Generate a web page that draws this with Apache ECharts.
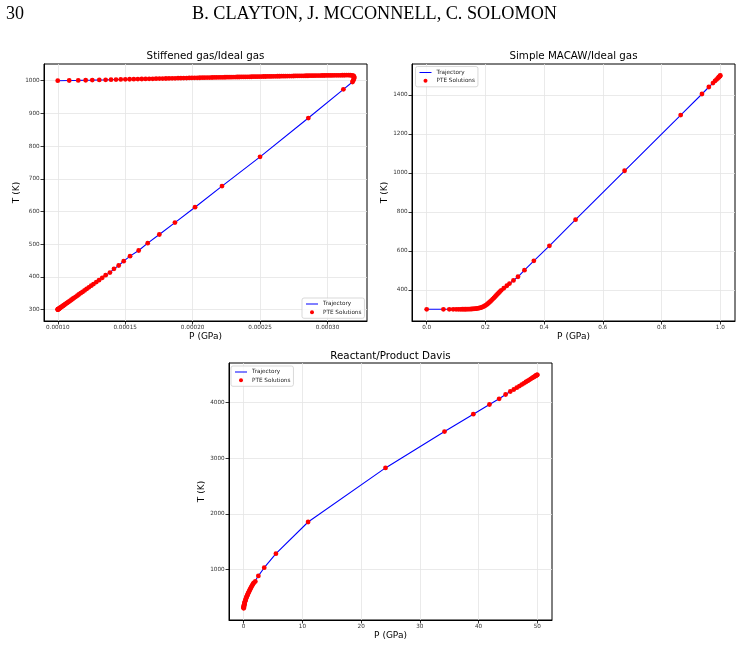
<!DOCTYPE html>
<html><head><meta charset="utf-8">
<script src="https://cdn.jsdelivr.net/npm/echarts@6/dist/echarts.min.js"></script>
<style>html,body{margin:0;padding:0;background:#fff}#c{width:743px;height:647px}</style>
</head><body><div id="c"></div>
<script>
// ---------- Data: Stiffened gas / Ideal gas (P in GPa, T in K) ----------
const sgLower = [[1.0000e-4,300],[1.0003e-4,300.1],[1.0010e-4,300.3],[1.0020e-4,300.6],[1.0030e-4,301],[1.0050e-4,301.5],[1.0070e-4,302.1],[1.0100e-4,302.8],[1.0120e-4,303.6],[1.0160e-4,304.6],[1.0190e-4,305.7],[1.0230e-4,306.9],[1.0280e-4,308.2],[1.0330e-4,309.6],[1.0380e-4,311.1],[1.0430e-4,312.7],[1.0490e-4,314.4],[1.0550e-4,316.2],[1.0620e-4,318.2],[1.0690e-4,320.3],[1.0770e-4,322.5],[1.0850e-4,325],[1.0940e-4,327.5],[1.1020e-4,330],[1.1120e-4,333],[1.1220e-4,336],[1.1330e-4,339],[1.1450e-4,342.5],[1.1560e-4,346],[1.1700e-4,350],[1.1840e-4,354],[1.1990e-4,358.5],[1.2140e-4,363],[1.2310e-4,368],[1.2480e-4,373],[1.2650e-4,378],[1.2860e-4,384],[1.3060e-4,390],[1.3300e-4,397],[1.3550e-4,405],[1.3870e-4,413],[1.4170e-4,424.5],[1.4520e-4,434.7],[1.4890e-4,448],[1.5360e-4,463.3],[1.6000e-4,480.6],[1.6670e-4,503],[1.7530e-4,529.6],[1.8690e-4,566],[2.0180e-4,613],[2.2180e-4,677.6],[2.5000e-4,767],[2.8580e-4,885.7],[3.1180e-4,973.6],[3.1850e-4,996]];
const sgCurl = [[3.1900e-4,1000],[3.1940e-4,1003.5],[3.1970e-4,1007],[3.1980e-4,1010],[3.1970e-4,1012.5],[3.1930e-4,1014.5],[3.1880e-4,1015.6],[3.1790e-4,1016.3]];
const sgUpper = [[1.0000e-4,1000],[1.0850e-4,1000.5],[1.1520e-4,1000.9],[1.2070e-4,1001.3],[1.2560e-4,1001.7],[1.3080e-4,1002.2],[1.3550e-4,1002.6],[1.3950e-4,1003],[1.4320e-4,1003.4],[1.4670e-4,1003.7],[1.5010e-4,1004],[1.5330e-4,1004.3],[1.5640e-4,1004.6],[1.5940e-4,1004.8],[1.6230e-4,1005.1],[1.6510e-4,1005.4],[1.6780e-4,1005.6],[1.7040e-4,1005.8],[1.7290e-4,1006.1],[1.7540e-4,1006.3],[1.7780e-4,1006.5],[1.8020e-4,1006.7],[1.8250e-4,1006.9],[1.8480e-4,1007.1],[1.8700e-4,1007.3],[1.8920e-4,1007.5],[1.9130e-4,1007.7],[1.9340e-4,1007.9],[1.9550e-4,1008.1],[1.9750e-4,1008.3],[1.9950e-4,1008.5],[2.0150e-4,1008.6],[2.0340e-4,1008.8],[2.0530e-4,1008.9],[2.0720e-4,1009.1],[2.0900e-4,1009.2],[2.1080e-4,1009.4],[2.1260e-4,1009.5],[2.1440e-4,1009.7],[2.1610e-4,1009.8],[2.1780e-4,1010],[2.1950e-4,1010.1],[2.2100e-4,1010.2],[2.2250e-4,1010.3],[2.2400e-4,1010.5],[2.2550e-4,1010.6],[2.2700e-4,1010.7],[2.2850e-4,1010.8],[2.3000e-4,1010.9],[2.3150e-4,1011],[2.3300e-4,1011.2],[2.3450e-4,1011.3],[2.3600e-4,1011.4],[2.3750e-4,1011.5],[2.3900e-4,1011.6],[2.4050e-4,1011.7],[2.4200e-4,1011.9],[2.4350e-4,1012],[2.4500e-4,1012.1],[2.4650e-4,1012.2],[2.4800e-4,1012.3],[2.4950e-4,1012.5],[2.5100e-4,1012.6],[2.5250e-4,1012.7],[2.5400e-4,1012.8],[2.5550e-4,1012.9],[2.5700e-4,1013],[2.5850e-4,1013.1],[2.6000e-4,1013.3],[2.6150e-4,1013.4],[2.6300e-4,1013.5],[2.6450e-4,1013.6],[2.6600e-4,1013.7],[2.6750e-4,1013.8],[2.6900e-4,1013.9],[2.7050e-4,1014],[2.7200e-4,1014.1],[2.7350e-4,1014.2],[2.7500e-4,1014.3],[2.7650e-4,1014.4],[2.7800e-4,1014.6],[2.7950e-4,1014.7],[2.8100e-4,1014.8],[2.8250e-4,1014.9],[2.8400e-4,1015],[2.8550e-4,1015.1],[2.8700e-4,1015.2],[2.8850e-4,1015.3],[2.9000e-4,1015.4],[2.9150e-4,1015.5],[2.9300e-4,1015.6],[2.9450e-4,1015.7],[2.9600e-4,1015.8],[2.9750e-4,1015.9],[2.9900e-4,1016],[3.0050e-4,1016.1],[3.0200e-4,1016.1],[3.0350e-4,1016.2],[3.0500e-4,1016.3],[3.0650e-4,1016.4],[3.0800e-4,1016.4],[3.0950e-4,1016.5],[3.1100e-4,1016.6],[3.1250e-4,1016.6],[3.1400e-4,1016.7],[3.1550e-4,1016.7],[3.1680e-4,1016.6]];
const sgXTicks = [0.0001, 0.00015, 0.0002, 0.00025, 0.0003];
const sgYTicks = [300, 400, 500, 600, 700, 800, 900, 1000];

// ---------- Data: Simple MACAW / Ideal gas ----------
const mcPoints = [[0,300],[0.057,300],[0.077,300],[0.090,300],[0.100,300],[0.108,300],[0.115,300.1],[0.121,300.2],[0.127,300.3],[0.132,300.4],[0.137,300.6],[0.141,300.8],[0.145,301],[0.149,301.3],[0.153,301.6],[0.157,302],[0.161,302.5],[0.165,303.1],[0.169,303.8],[0.173,304.7],[0.177,305.8],[0.181,307.2],[0.185,309],[0.189,311.2],[0.193,313.8],[0.197,317],[0.201,320.7],[0.205,325],[0.209,329.8],[0.213,335],[0.217,340.5],[0.221,346.3],[0.225,352.3],[0.229,358.5],[0.233,364.8],[0.237,371.2],[0.241,377.7],[0.245,384.2],[0.249,390.5],[0.254,397.5],[0.2625,408],[0.273,421],[0.282,432],[0.2955,448],[0.311,467],[0.333,501],[0.365,549],[0.418,626],[0.507,760],[0.674,1011],[0.865,1297],[0.9375,1405],[0.961,1441],[0.975,1461],[0.982,1472],[0.987,1479],[0.991,1485],[0.994,1490],[0.996,1493],[0.998,1496],[0.999,1498],[1.0,1500]];
const mcXTicks = [0, 0.2, 0.4, 0.6, 0.8, 1.0];
const mcYTicks = [400, 600, 800, 1000, 1200, 1400];

// ---------- Data: Reactant / Product Davis ----------
const dvPoints = [[0,300],[0.005,310],[0.012,318],[0.02,325],[0.03,332],[0.045,342],[0.06,351],[0.08,361],[0.1,371],[0.13,384],[0.16,397],[0.2,412],[0.24,426],[0.28,440],[0.33,456],[0.38,471],[0.43,485],[0.49,502],[0.55,518],[0.61,533],[0.68,550],[0.75,567],[0.82,583],[0.9,600],[0.98,618],[1.06,635],[1.15,653],[1.24,671],[1.34,690],[1.45,711],[1.57,733],[1.7,756],[1.98,782],[2.5,882],[3.5,1030],[5.49,1282],[10.97,1852],[24.15,2824],[34.2,3478],[39.1,3790],[41.85,3964],[43.5,4066],[44.6,4144],[45.4,4198],[46.0,4234],[46.5,4266],[46.95,4296],[47.35,4322],[47.7,4345],[48.05,4368],[48.35,4388],[48.65,4408],[48.9,4425],[49.15,4442],[49.35,4455],[49.52,4466],[49.67,4476],[49.8,4485],[49.9,4492],[49.96,4496],[50.0,4498]];
const dvXTicks = [0, 10, 20, 30, 40, 50];
const dvYTicks = [1000, 2000, 3000, 4000];

const titles = ['Stiffened gas/Ideal gas', 'Simple MACAW/Ideal gas', 'Reactant/Product Davis'];
const header = { page: '30', authors: 'B. CLAYTON, J. MCCONNELL, C. SOLOMON' };

// ---------- Build chart ----------
const FF = "'DejaVu Sans', sans-serif";
const sgData = sgLower.concat(sgCurl, sgUpper.slice().reverse());

const grids = [
  { left: 44, top: 64, width: 323, height: 257 },
  { left: 412, top: 64, width: 323, height: 257 },
  { left: 229, top: 363, width: 323, height: 257 }
];

function xAxis(gi, min, max, ticks, fmt, splitNumber) {
  return {
    gridIndex: gi, type: 'value', min, max, splitNumber,
    name: 'P (GPa)', nameLocation: 'middle', nameGap: 11,
    nameTextStyle: { fontSize: 9, color: '#000', fontFamily: FF },
    axisLine: { show: true, onZero: false, lineStyle: { color: '#000', width: 1 } },
    axisTick: { show: true, length: 3.5, customValues: ticks, lineStyle: { color: '#000', width: 0.8 } },
    axisLabel: { customValues: ticks, formatter: fmt, fontSize: 5.7, color: '#333', margin: 3.5, fontFamily: FF, hideOverlap: false },
    splitLine: { show: true, lineStyle: { color: '#e4e4e4', width: 0.8 } }
  };
}
function yAxis(gi, min, max, ticks, splitNumber) {
  return {
    gridIndex: gi, type: 'value', min, max, splitNumber,
    name: 'T (K)', nameLocation: 'middle', nameGap: 22, nameRotate: 90,
    nameTextStyle: { fontSize: 9, color: '#000', fontFamily: FF },
    axisLine: { show: true, onZero: false, lineStyle: { color: '#000', width: 1 } },
    axisTick: { show: true, length: 3.5, customValues: ticks, lineStyle: { color: '#000', width: 0.8 } },
    axisLabel: { customValues: ticks, formatter: v => String(Math.round(v)), fontSize: 5.7, color: '#333', margin: 4.3, fontFamily: FF, hideOverlap: false },
    splitLine: { show: true, lineStyle: { color: '#e4e4e4', width: 0.8 } }
  };
}

function seriesPair(i, data) {
  return [
    { type: 'line', name: 'Trajectory', xAxisIndex: i, yAxisIndex: i, data, symbol: 'none', showSymbol: false,
      lineStyle: { color: '#0000ff', width: 1.1 }, itemStyle: { color: '#0000ff' }, z: 2, silent: true },
    { type: 'scatter', name: 'PTE Solutions', xAxisIndex: i, yAxisIndex: i, data, symbol: 'circle', symbolSize: 4.8,
      itemStyle: { color: '#ff0000', opacity: 1 }, z: 3, silent: true }
  ];
}

function legend(left, top) {
  return {
    orient: 'vertical', left, top,
    data: [
      { name: 'Trajectory', icon: 'path://M0,0L24,0L24,2L0,2Z', itemStyle: { color: '#0000ff' } },
      { name: 'PTE Solutions', icon: 'circle', itemStyle: { color: '#ff0000' } }
    ],
    itemWidth: 12, itemHeight: 4, itemGap: 1.3,
    padding: [2.5, 3, 2.5, 4],
    backgroundColor: 'rgba(255,255,255,0.8)', borderColor: '#cfcfcf', borderWidth: 0.8, borderRadius: 2,
    textStyle: { fontSize: 5.7, color: '#222', fontFamily: FF, lineHeight: 7 },
    selectedMode: false
  };
}

function txt(x, y, text, size, family, align) {
  return { type: 'text', x, y, silent: true,
    style: { text, fontSize: size, fontFamily: family, fill: '#000',
      align: align, textAlign: align, verticalAlign: 'middle', textVerticalAlign: 'middle' } };
}

const chart = echarts.init(document.getElementById('c'), null, { renderer: 'canvas' });
chart.setOption({
  animation: false,
  backgroundColor: '#fff',
  grid: grids.map(g => Object.assign({ show: true, borderColor: '#000', borderWidth: 1, backgroundColor: 'transparent' }, g)),
  xAxis: [
    xAxis(0, 0.0000898, 0.0003293, sgXTicks, v => v.toFixed(5), 5),
    xAxis(1, -0.05, 1.05, mcXTicks, v => v.toFixed(1), 5),
    xAxis(2, -2.5, 52.5, dvXTicks, v => String(Math.round(v)), 5)
  ],
  yAxis: [
    yAxis(0, 265, 1051, sgYTicks, 8),
    yAxis(1, 240, 1559, mcYTicks, 7),
    yAxis(2, 90, 4710, dvYTicks, 5)
  ],
  legend: [legend(302, 298), legend(415.5, 66.5), legend(231, 366)],
  series: [].concat(seriesPair(0, sgData), seriesPair(1, mcPoints), seriesPair(2, dvPoints)),
  graphic: [
    txt(6, 14, header.page, 18, "'Liberation Serif', serif", 'left'),
    txt(374.5, 14, header.authors, 18.2, "'Liberation Serif', serif", 'center'),
    txt(205.5, 56.7, titles[0], 10.3, FF, 'center'),
    txt(573.5, 56.7, titles[1], 10.3, FF, 'center'),
    txt(390.5, 356.7, titles[2], 10.3, FF, 'center')
  ]
});
</script></body></html>
